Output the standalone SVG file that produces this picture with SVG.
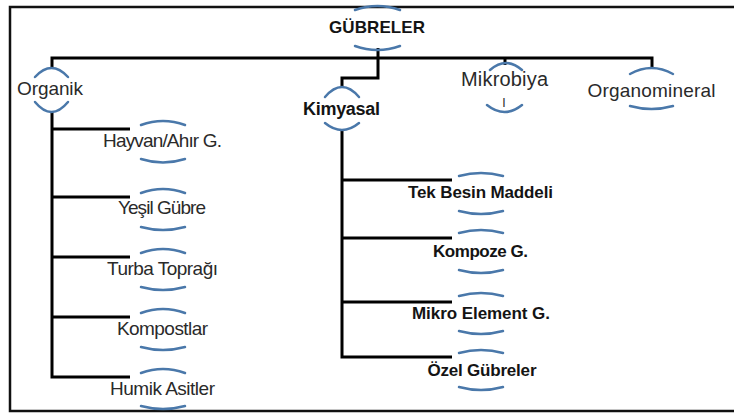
<svg xmlns="http://www.w3.org/2000/svg" width="734" height="417" viewBox="0 0 734 417">
<style>
.frame{fill:none;stroke:#111;stroke-width:2.5}
.ln{fill:none;stroke:#000;stroke-width:3;stroke-linejoin:miter;stroke-linecap:butt}
.arc{fill:none;stroke:#4a78aa;stroke-width:2.5;stroke-linecap:round}
.t{font-family:"Liberation Sans",Arial,sans-serif;font-size:19px;fill:#2a2a2a;text-anchor:middle}
.b{font-family:"Liberation Sans",Arial,sans-serif;font-size:17px;font-weight:bold;fill:#141414;text-anchor:middle}
</style>
<rect x="0" y="0" width="734" height="417" fill="#fff"/>
<rect class="frame" x="10" y="7" width="740" height="404"/>
<g id="connectors">
<polyline class="ln" points="52,68 52,58 652,58 652,68"/>
<line class="ln" x1="505" y1="58" x2="505" y2="65"/>
<polyline class="ln" points="378,48 378,78 342,78 342,88"/>
<polyline class="ln" points="52,112 52,377 130,377"/>
<line class="ln" x1="52" y1="129" x2="130" y2="129"/>
<line class="ln" x1="52" y1="197" x2="130" y2="197"/>
<line class="ln" x1="52" y1="257" x2="130" y2="257"/>
<line class="ln" x1="52" y1="317" x2="130" y2="317"/>
<polyline class="ln" points="342,130 342,357 452,357"/>
<line class="ln" x1="342" y1="180" x2="452" y2="180"/>
<line class="ln" x1="342" y1="238" x2="452" y2="238"/>
<line class="ln" x1="342" y1="302" x2="452" y2="302"/>
</g>
<g id="gubreler">
<path class="arc" d="M355,10 Q377.5,2 400,10"/>
<text class="b" x="377" y="33" textLength="96">GÜBRELER</text>
<path class="arc" d="M355,46 Q377.5,54 400,46"/>
</g>
<g id="organik">
<path class="arc" d="M35,77 Q51.5,59 68,77"/>
<text class="t" x="50" y="95" textLength="66">Organik</text>
<path class="arc" d="M35,102 Q51.5,122 68,102"/>
</g>
<g id="kimyasal">
<path class="arc" d="M325,97 Q342,77 359,97"/>
<text class="b" x="341.5" y="115" textLength="77" style="font-size:18px">Kimyasal</text>
<path class="arc" d="M325,123 Q342,137 359,123"/>
</g>
<g id="mikrobiya">
<path class="arc" d="M490,70 Q506,56 522,70"/>
<text class="t" x="504.5" y="86" textLength="87" style="font-size:20px">Mikrobiya</text>
<text class="t" x="504" y="107" style="font-size:13px">l</text>
<path class="arc" d="M487,105 Q504.5,119 522,105"/>
</g>
<g id="organomineral">
<path class="arc" d="M630,74 Q651.5,62 673,74"/>
<text class="t" x="651.5" y="97" textLength="128">Organomineral</text>
<path class="arc" d="M630,106 Q651.5,112 673,106"/>
</g>
<g id="hayvan">
<path class="arc" d="M141,125 Q163,117 185,125"/>
<text class="t" x="162.5" y="147" textLength="119">Hayvan/Ahır G.</text>
<path class="arc" d="M141,159 Q163,166 185,159"/>
</g>
<g id="yesil">
<path class="arc" d="M141,193 Q163,185 185,193"/>
<text class="t" x="162" y="214" textLength="88">Yeşil Gübre</text>
<path class="arc" d="M141,227 Q163,233 185,227"/>
</g>
<g id="turba">
<path class="arc" d="M141,253 Q163,245 185,253"/>
<text class="t" x="162.5" y="275" textLength="111">Turba Toprağı</text>
<path class="arc" d="M141,287 Q163,293 185,287"/>
</g>
<g id="kompostlar">
<path class="arc" d="M141,313 Q163,305 185,313"/>
<text class="t" x="162.5" y="335" textLength="91">Kompostlar</text>
<path class="arc" d="M141,347 Q163,353 185,347"/>
</g>
<g id="humik">
<path class="arc" d="M141,373 Q163,365 185,373"/>
<text class="t" x="162.5" y="395" textLength="105">Humik Asitler</text>
<path class="arc" d="M141,406 Q163,412 185,406"/>
</g>
<g id="tekbesin">
<path class="arc" d="M459,176 Q481,170 503,176"/>
<text class="b" x="480.5" y="198" textLength="145">Tek Besin Maddeli</text>
<path class="arc" d="M459,211 Q481,217 503,211"/>
</g>
<g id="kompoze">
<path class="arc" d="M459,233 Q481,227 503,233"/>
<text class="b" x="480.5" y="257" textLength="95">Kompoze G.</text>
<path class="arc" d="M459,270 Q481,276 503,270"/>
</g>
<g id="mikroelement">
<path class="arc" d="M459,296 Q481,290 503,296"/>
<text class="b" x="481" y="319" textLength="138">Mikro Element G.</text>
<path class="arc" d="M459,331 Q481,337 503,331"/>
</g>
<g id="ozel">
<path class="arc" d="M459,353 Q481,347 503,353"/>
<text class="b" x="482" y="376" textLength="109">Özel Gübreler</text>
<path class="arc" d="M459,387 Q481,393 503,387"/>
</g>
</svg>
